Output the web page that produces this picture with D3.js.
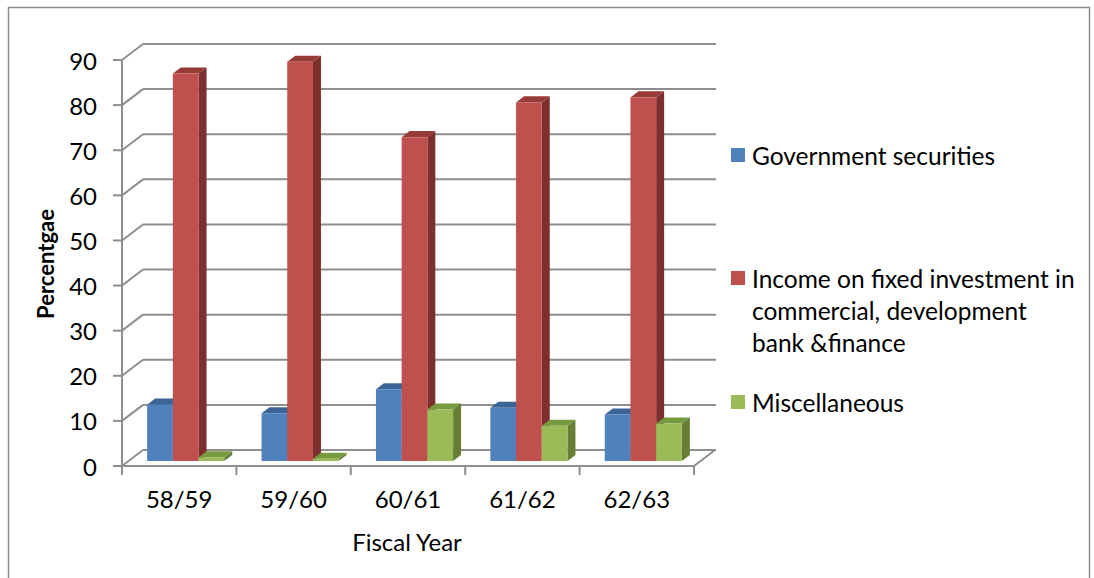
<!DOCTYPE html>
<html>
<head>
<meta charset="utf-8">
<script src="https://cdn.jsdelivr.net/npm/d3@7"></script>
<style>
  html, body { margin: 0; padding: 0; background: #fff; }
  svg { display: block; }
  text { font-family: Lato, "Open Sans", sans-serif; fill: #000; }
</style>
</head>
<body>
<svg id="chart" width="1094" height="578"></svg>
<script>
// Fiscal years on the category axis
const categories = ["58/59", "59/60", "60/61", "61/62", "62/63"];

// Share of income (%) per source
const seriesNames = [
  "Government securities",
  "Income on fixed investment in commercial, development bank &finance",
  "Miscellaneous"
];
const governmentSecurities = [12.5, 10.6, 15.9, 11.8, 10.3];
const fixedInvestment      = [85.9, 88.5, 71.8, 79.5, 80.6];
const miscellaneous        = [0.8, 0.5, 11.4, 7.8, 8.3];

const yTicks = [0, 10, 20, 30, 40, 50, 60, 70, 80, 90];

const legendLines = [
  ["Government securities"],
  ["Income on fixed investment in", "commercial, development", "bank &finance"],
  ["Miscellaneous"]
];

const palette = [
  { front: "#4f81bd", top: "#3b6597", side: "#35577f" },
  { front: "#c0504d", top: "#973a38", side: "#7c2f2d" },
  { front: "#9bbb59", top: "#789a3e", side: "#667f34" }
];

const seriesValues = [governmentSecurities, fixedInvestment, miscellaneous];

const svg = d3.select("#chart");

// outer chart frame
svg.append("rect")
  .attr("x", 8.5).attr("y", 7.5)
  .attr("width", 1081).attr("height", 590)
  .attr("fill", "none").attr("stroke", "#8c8c8c").attr("stroke-width", 1.5);

// plot geometry: front plane + oblique depth offset
const frontLeft = 122, frontRight = 694, floorY = 466;
const depthDX = 21, depthDY = -16;

const x0 = d3.scaleBand().domain(categories).range([frontLeft, frontRight]);
const x1 = d3.scaleBand().domain(d3.range(seriesNames.length))
  .range([0, x0.bandwidth()]).paddingOuter(0.725);
const y = d3.scaleLinear().domain([0, 90]).range([floorY, floorY - 406]);

// project a point on the front plane (px, value) back by depth fraction d
const proj = (px, v, d) => [px + d * depthDX, y(v) + d * depthDY];

const gridColor = "#8e8e8e";
const grid = svg.append("g").attr("stroke", gridColor).attr("stroke-width", 2).attr("fill", "none");

// back-wall gridlines and side-wall diagonals
yTicks.forEach(t => {
  const a = proj(frontLeft, t, 0), b = proj(frontLeft, t, 1), c = proj(frontRight, t, 1);
  grid.append("path").attr("d", `M${b[0]},${b[1]}H${c[0] + 1}`);
  grid.append("path").attr("d", `M${a[0]},${a[1]}L${b[0]},${b[1]}`);
});

// floor front edge and right edge
{
  const a = proj(frontLeft, 0, 0), b = proj(frontRight, 0, 0), c = proj(frontRight, 0, 1);
  grid.append("path").attr("d", `M${a[0]},${a[1]}H${b[0]}L${c[0]},${c[1]}`);
}

// value axis line and tick marks
grid.append("path").attr("d", `M${frontLeft},${y(90)}V${floorY}`);
yTicks.forEach(t => {
  grid.append("path").attr("d", `M${frontLeft - 9},${y(t)}H${frontLeft}`);
});

// category tick marks at band edges
const edges = categories.map(c => x0(c)).concat([frontRight]);
edges.forEach(e => {
  grid.append("path").attr("d", `M${e},${floorY}V${floorY + 9}`);
});

// value labels
svg.append("g").selectAll("text").data(yTicks).join("text")
  .attr("x", 97).attr("y", d => y(d))
  .attr("text-anchor", "end").attr("dominant-baseline", "central")
  .style("font-size", "24px")
  .text(d => d);

// category labels
svg.append("g").selectAll("text").data(categories).join("text")
  .attr("x", d => x0(d) + x0.bandwidth() / 2).attr("y", 498)
  .attr("text-anchor", "middle").attr("dominant-baseline", "central")
  .style("font-size", "24px")
  .text(d => d);

// axis titles
svg.append("text")
  .attr("x", 407).attr("y", 541)
  .attr("text-anchor", "middle").attr("dominant-baseline", "central")
  .style("font-size", "24px")
  .text("Fiscal Year");

svg.append("text")
  .attr("transform", "translate(45,264) rotate(-90)")
  .attr("text-anchor", "middle").attr("dominant-baseline", "central")
  .style("font-size", "22px").style("font-weight", "bold")
  .text("Percentgae");

// 3D columns, drawn left to right so each face overlaps correctly
const dFront = 0.31, dBack = 0.69;
const bars = svg.append("g");
categories.forEach((cat, ci) => {
  seriesNames.forEach((s, si) => {
    const v = seriesValues[si][ci];
    const xl = x0(cat) + x1(si), xr = xl + x1.bandwidth();
    const col = palette[si];
    const fl0 = proj(xl, 0, dFront), fr0 = proj(xr, 0, dFront);
    const flv = proj(xl, v, dFront), frv = proj(xr, v, dFront);
    const blv = proj(xl, v, dBack), brv = proj(xr, v, dBack), br0 = proj(xr, 0, dBack);
    const g = bars.append("g");
    // right side face
    g.append("path")
      .attr("d", `M${fr0}L${frv}L${brv}L${br0}Z`)
      .attr("fill", col.side);
    // top face
    g.append("path")
      .attr("d", `M${flv}L${frv}L${brv}L${blv}Z`)
      .attr("fill", col.top);
    // front face
    g.append("path")
      .attr("d", `M${fl0}L${fr0}L${frv}L${flv}Z`)
      .attr("fill", col.front);
  });
});

// legend
const legendY = [155, 278, 402];
const legend = svg.append("g");
legendLines.forEach((lines, i) => {
  legend.append("rect")
    .attr("x", 731).attr("y", legendY[i] - 7)
    .attr("width", 14).attr("height", 14)
    .attr("fill", palette[i].front);
  lines.forEach((ln, k) => {
    legend.append("text")
      .attr("x", 752).attr("y", legendY[i] + k * 32)
      .attr("dominant-baseline", "central")
      .style("font-size", "24.5px")
      .text(ln);
  });
});
</script>
</body>
</html>
